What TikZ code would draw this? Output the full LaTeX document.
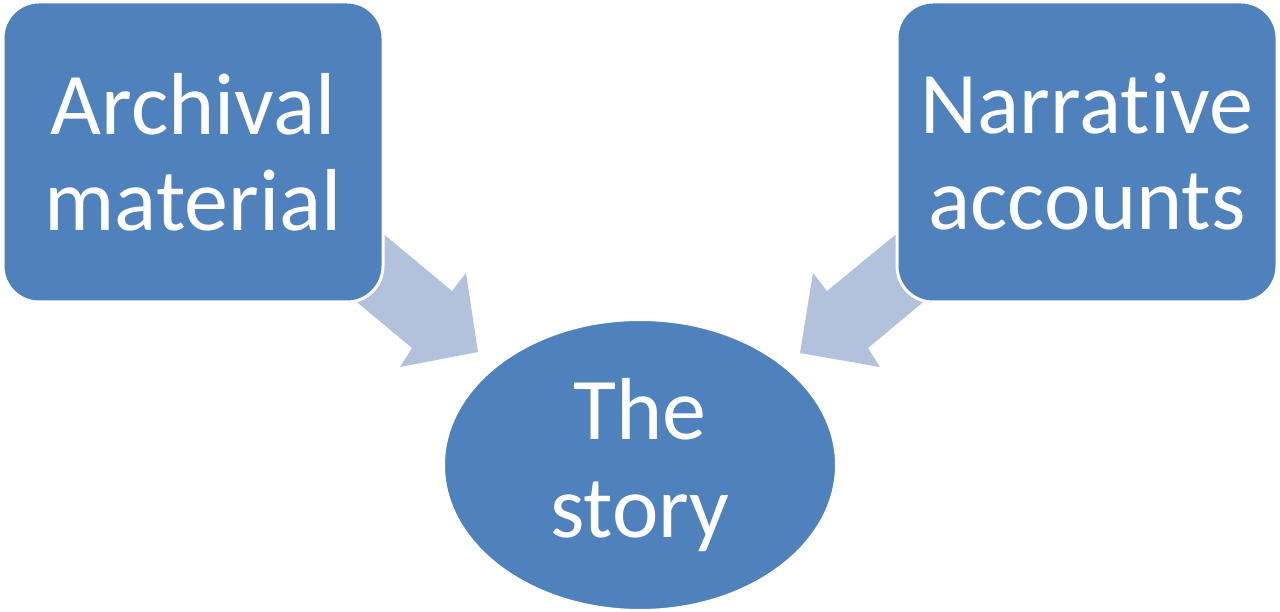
\documentclass[tikz,border=0pt]{standalone}
\usepackage{fontspec}
\setmainfont[Ligatures=NoCommon]{Carlito}
\usetikzlibrary{shapes.geometric}
\definecolor{boxblue}{HTML}{4F81BD}
\definecolor{arrowblue}{HTML}{B3C2DC}
\tikzset{
  box/.style={draw=white, line width=3pt, fill=boxblue, rounded corners=36pt,
    minimum width=380pt, minimum height=300pt, text=white, align=center,
    font=\fontsize{88}{96}\selectfont, inner sep=0pt},
  oval/.style={ellipse, draw=white, line width=2pt, fill=boxblue, minimum width=392pt,
    minimum height=290pt, text=white, align=center, font=\fontsize{88}{98}\selectfont, inner sep=0pt},
  fat/.style={fill=arrowblue, draw=none}
}
\begin{document}
\begin{tikzpicture}[x=1pt,y=-1pt]
\useasboundingbox (0,0) rectangle (1280,612);
% arrows
\coordinate (ltip) at (478,352);
\coordinate (rtip) at (800,353);
\fill[fat] (380,231) -- (452,291) -- (466,273) -- (ltip) -- (400,367) -- (412,348) -- (340,288) -- cycle;
\fill[fat] (900,231) -- (827,291) -- (813,273) -- (rtip) -- (880,367) -- (868,348) -- (940,288) -- cycle;
\node[box] (arch) at (193,152) {Archival\\material};
\node[box] (narr) at (1087,152) {Narrative\\accounts};
\node[oval] (story) at (640,465) {The\\story};
\end{tikzpicture}
\end{document}
